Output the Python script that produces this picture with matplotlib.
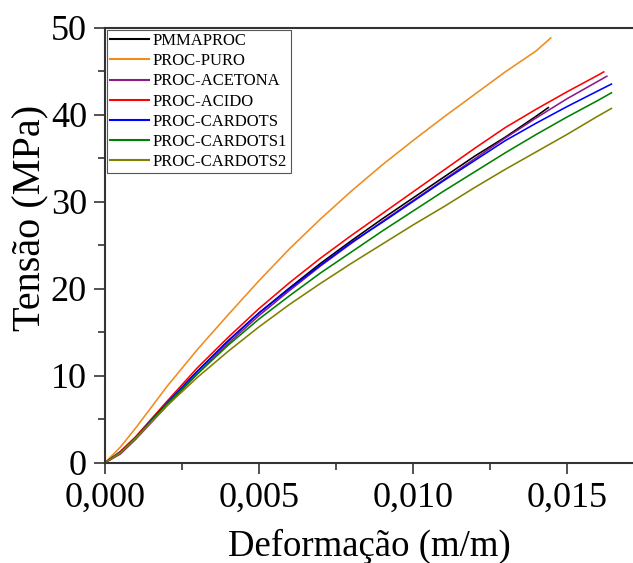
import matplotlib
matplotlib.use("Agg")
import matplotlib.pyplot as plt

plt.rcParams["font.family"] = ["Liberation Serif", "DejaVu Serif"]

# Stress-strain curves (strain in m/m, stress in MPa)
strain_pmmaproc = [0, 0.0005, 0.001, 0.002, 0.003, 0.004, 0.005, 0.006, 0.007, 0.008,
                   0.009, 0.010, 0.011, 0.012, 0.013, 0.014, 0.0144]
stress_pmmaproc = [0, 1.1, 2.9, 6.8, 10.5, 14.0, 17.2, 20.1, 22.9, 25.5,
                   28.0, 30.4, 32.8, 35.2, 37.4, 39.8, 40.8]

strain_puro = [0, 0.0005, 0.001, 0.002, 0.003, 0.004, 0.005, 0.006, 0.007, 0.008,
               0.009, 0.010, 0.011, 0.012, 0.013, 0.014, 0.01448]
stress_puro = [0, 1.8, 4.0, 8.7, 13.0, 17.0, 20.9, 24.6, 28.0, 31.2,
               34.2, 37.0, 39.7, 42.3, 44.9, 47.3, 48.8]

strain_acetona = [0, 0.0005, 0.001, 0.002, 0.003, 0.004, 0.005, 0.006, 0.007, 0.008,
                  0.009, 0.010, 0.011, 0.012, 0.013, 0.014, 0.015, 0.016, 0.0163]
stress_acetona = [0, 1.0, 2.7, 6.5, 10.2, 13.7, 16.9, 19.8, 22.6, 25.2,
                  27.7, 30.1, 32.5, 34.9, 37.3, 39.6, 41.8, 43.8, 44.4]

strain_acido = [0, 0.0005, 0.001, 0.002, 0.003, 0.004, 0.005, 0.006, 0.007, 0.008,
                0.009, 0.010, 0.011, 0.012, 0.013, 0.014, 0.015, 0.016, 0.0162]
stress_acido = [0, 1.3, 3.0, 7.0, 10.9, 14.4, 17.7, 20.7, 23.5, 26.1,
                28.6, 31.1, 33.6, 36.1, 38.5, 40.6, 42.6, 44.5, 44.9]

strain_cardots = [0, 0.0005, 0.001, 0.002, 0.003, 0.004, 0.005, 0.006, 0.007, 0.008,
                  0.009, 0.010, 0.011, 0.012, 0.013, 0.014, 0.015, 0.016, 0.01645]
stress_cardots = [0, 1.2, 2.9, 6.8, 10.5, 14.0, 17.2, 20.0, 22.7, 25.3,
                  27.6, 30.0, 32.4, 34.7, 37.0, 39.0, 40.9, 42.7, 43.5]

strain_cardots1 = [0, 0.0005, 0.001, 0.002, 0.003, 0.004, 0.005, 0.006, 0.007, 0.008,
                   0.009, 0.010, 0.011, 0.012, 0.013, 0.014, 0.015, 0.016, 0.01645]
stress_cardots1 = [0, 1.2, 2.9, 6.7, 10.2, 13.5, 16.5, 19.2, 21.8, 24.2,
                   26.6, 28.9, 31.2, 33.4, 35.6, 37.7, 39.7, 41.6, 42.5]

strain_cardots2 = [0, 0.0005, 0.001, 0.002, 0.003, 0.004, 0.005, 0.006, 0.007, 0.008,
                   0.009, 0.010, 0.011, 0.012, 0.013, 0.014, 0.015, 0.016, 0.01645]
stress_cardots2 = [0, 1.1, 2.8, 6.5, 9.8, 12.8, 15.6, 18.2, 20.6, 22.9,
                   25.1, 27.3, 29.4, 31.6, 33.7, 35.7, 37.7, 39.8, 40.7]

series_names = ["PMMAPROC", "PROC-PURO", "PROC-ACETONA", "PROC-ACIDO",
                "PROC-CARDOTS", "PROC-CARDOTS1", "PROC-CARDOTS2"]
series_colors = ["#000000", "#F08C1E", "#8B1A8B", "#FF0000",
                 "#0000FF", "#008000", "#808000"]

x_ticks = [0.0, 0.005, 0.010, 0.015]
x_tick_labels = ["0,000", "0,005", "0,010", "0,015"]
y_ticks = [0, 10, 20, 30, 40, 50]
y_tick_labels = ["0", "10", "20", "30", "40", "50"]

series = [
    (strain_pmmaproc, stress_pmmaproc),
    (strain_puro, stress_puro),
    (strain_acetona, stress_acetona),
    (strain_acido, stress_acido),
    (strain_cardots, stress_cardots),
    (strain_cardots1, stress_cardots1),
    (strain_cardots2, stress_cardots2),
]

fig = plt.figure(figsize=(6.33, 5.63), dpi=100)
ax = fig.add_axes([105 / 633, 1 - 462.7 / 563, 1 - 105 / 633, (462.7 - 27.5) / 563])

for (xs, ys), name, color in zip(series, series_names, series_colors):
    ax.plot(xs, ys, color=color, lw=1.15, label=name)

ax.set_xlim(0, 0.01715)
ax.set_ylim(0, 50)
ax.set_xticks(x_ticks)
ax.set_xticklabels(x_tick_labels)
ax.set_yticks(y_ticks)
ax.set_yticklabels(y_tick_labels)
ax.set_xticks([0.0025, 0.0075, 0.0125], minor=True)
ax.set_yticks([5, 15, 25, 35, 45], minor=True)

ax.tick_params(which="both", direction="out", width=1.2, colors="#333333",
               labelcolor="black", labelsize=26)
ax.tick_params(which="major", length=8)
ax.tick_params(which="minor", length=5)
ax.tick_params(axis="y", which="major", pad=5)
ax.tick_params(axis="x", which="major", pad=6)

for side in ("left", "bottom", "top"):
    ax.spines[side].set_linewidth(1.5)
    ax.spines[side].set_color("#333333")
ax.spines["right"].set_visible(False)

ax.set_xlabel("Deformação (m/m)", fontsize=26.5, labelpad=10)
ax.set_ylabel("Tensão (MPa)", fontsize=29)
ax.yaxis.set_label_coords(-0.106, 0.562)

leg = ax.legend(loc="upper left", bbox_to_anchor=(0.004, 0.995), borderaxespad=0,
                fontsize=12, frameon=True, fancybox=False, framealpha=1,
                edgecolor="#555555", handlelength=2.3, handletextpad=0.25,
                labelspacing=0.25, borderpad=0.2)
leg.get_frame().set_linewidth(0.8)
for line in leg.get_lines():
    line.set_linewidth(1.5)

fig.savefig("out.png", dpi=100)
